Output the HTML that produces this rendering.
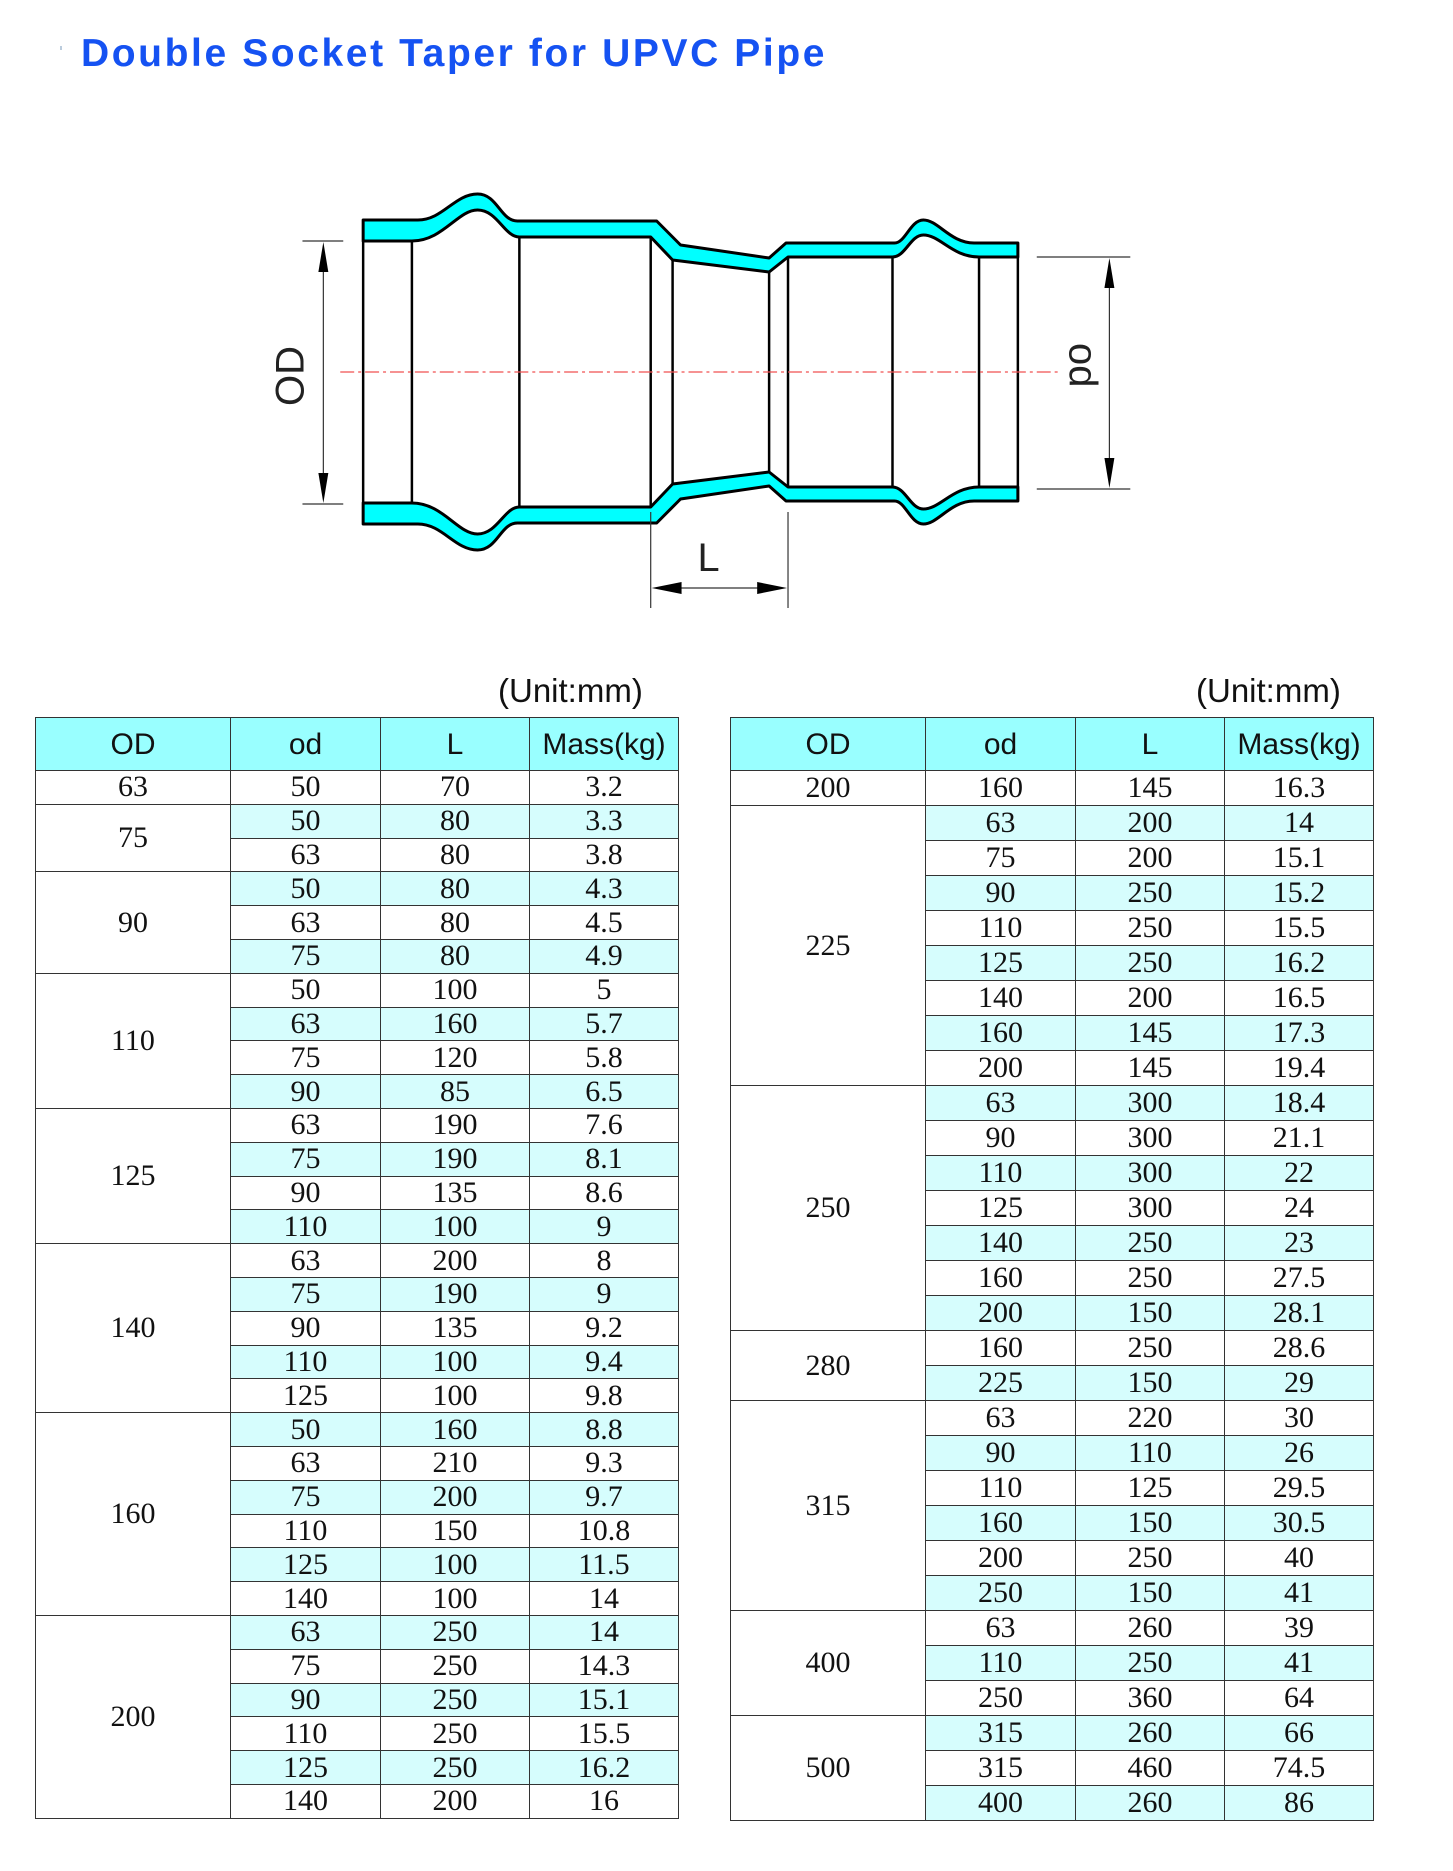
<!DOCTYPE html>
<html><head><meta charset="utf-8"><style>
body{margin:0;width:1453px;height:1871px;background:#fff;position:relative;overflow:hidden;font-family:"Liberation Sans",sans-serif}
.title{position:absolute;left:81px;top:32px;font:bold 39px "Liberation Sans",sans-serif;color:#1552f2;letter-spacing:2.6px;white-space:nowrap}
.unit{position:absolute;top:672px;font:33px "Liberation Sans",sans-serif;color:#111}
table{position:absolute;top:717px;border-collapse:collapse;table-layout:fixed}
td{border:1.5px solid #333;text-align:center;padding:0;font:30px "Liberation Serif",serif;color:#111;line-height:1}
table.l td{height:32.8px}
table.r td{height:34px}
th{border:1.5px solid #333;background:#99ffff;font:normal 30px "Liberation Sans",sans-serif;color:#111;height:50px;padding:0;padding-top:2px}
tr.s td{background:#d6fdfd}
tr td.o{background:#fff!important}
</style></head><body>
<div class="title">Double Socket Taper for UPVC Pipe</div>
<div style="position:absolute;left:60px;top:46px;width:2px;height:4px;background:#bcd"></div>

<svg style="position:absolute;left:0;top:0" width="1453" height="660">
<defs><path id="w" d="M370,220 L425,220 C450,220 462,194 485,194 C505,194 508,221 525,221 L665,221 L689,245 L778,258 L795,243 L904,243 C915,243 920,220 933,220 C948,220 960,243 984,243 L1028,243 L1028,257 L989,257 C962,257 950,235 933,235 C920,235 915,257 902,257 L797,257 L778,272 L681,260 L659,237 L527,237 C512,237 505,210 485,210 C465,210 450,241 419,241 L370,241 Z" fill="#00ffff" stroke="#000" stroke-width="3" stroke-linejoin="round"/></defs>
<g transform="translate(-5,0) scale(0.995,1)">
<use href="#w"/>
<use href="#w" transform="translate(0,744) scale(1,-1)"/>
<g stroke="#000" stroke-width="2.5">
<line x1="370" y1="241" x2="370" y2="503"/>
<line x1="419" y1="241" x2="419" y2="503"/>
<line x1="527" y1="237" x2="527" y2="507"/>
<line x1="659" y1="237" x2="659" y2="507"/>
<line x1="681" y1="260" x2="681" y2="484"/>
<line x1="778" y1="272" x2="778" y2="472"/>
<line x1="797" y1="257" x2="797" y2="487"/>
<line x1="902" y1="257" x2="902" y2="487"/>
<line x1="989" y1="257" x2="989" y2="487"/>
<line x1="1028" y1="243" x2="1028" y2="501"/>
</g>
<line x1="347" y1="372" x2="1068" y2="372" stroke="#f05050" stroke-width="1.3" stroke-dasharray="14,4,3,4"/>
<g stroke="#333" stroke-width="1.2">
<line x1="309" y1="241" x2="350" y2="241"/><line x1="309" y1="504" x2="350" y2="504"/>
<line x1="330" y1="262" x2="330" y2="483"/>
<line x1="1047" y1="257" x2="1141" y2="257"/><line x1="1047" y1="489" x2="1141" y2="489"/>
<line x1="1120" y1="278" x2="1120" y2="468"/>
<line x1="659" y1="512" x2="659" y2="608"/><line x1="797" y1="512" x2="797" y2="608"/>
<line x1="680" y1="588" x2="776" y2="588"/>
</g>
<g fill="#000">
<polygon points="330,242 325,272 335,272"/><polygon points="330,503 325,473 335,473"/>
<polygon points="1120,258 1115,288 1125,288"/><polygon points="1120,488 1115,458 1125,458"/>
<polygon points="660,588 690,582 690,594"/><polygon points="796,588 766,582 766,594"/>
</g>
<text x="0" y="0" transform="translate(310,406) rotate(-90)" font-family="Liberation Sans" font-size="40" fill="#222">OD</text>
<text x="0" y="0" transform="translate(1080,343) rotate(90)" font-family="Liberation Sans" font-size="40" fill="#222">od</text>
<text x="706" y="571" font-family="Liberation Sans" font-size="40" fill="#222">L</text>
</g>
</svg>

<div class="unit" style="left:498px">(Unit:mm)</div>
<div class="unit" style="left:1196px">(Unit:mm)</div>

<table class="l" style="left:35px;width:643px">
<colgroup><col style="width:195px"><col style="width:150px"><col style="width:149px"><col style="width:149px"></colgroup>
<tr><th>OD</th><th>od</th><th>L</th><th>Mass(kg)</th></tr>
<tr><td class="o">63</td><td>50</td><td>70</td><td>3.2</td></tr>
<tr class="s"><td class="o" rowspan="2">75</td><td>50</td><td>80</td><td>3.3</td></tr>
<tr><td>63</td><td>80</td><td>3.8</td></tr>
<tr class="s"><td class="o" rowspan="3">90</td><td>50</td><td>80</td><td>4.3</td></tr>
<tr><td>63</td><td>80</td><td>4.5</td></tr>
<tr class="s"><td>75</td><td>80</td><td>4.9</td></tr>
<tr><td class="o" rowspan="4">110</td><td>50</td><td>100</td><td>5</td></tr>
<tr class="s"><td>63</td><td>160</td><td>5.7</td></tr>
<tr><td>75</td><td>120</td><td>5.8</td></tr>
<tr class="s"><td>90</td><td>85</td><td>6.5</td></tr>
<tr><td class="o" rowspan="4">125</td><td>63</td><td>190</td><td>7.6</td></tr>
<tr class="s"><td>75</td><td>190</td><td>8.1</td></tr>
<tr><td>90</td><td>135</td><td>8.6</td></tr>
<tr class="s"><td>110</td><td>100</td><td>9</td></tr>
<tr><td class="o" rowspan="5">140</td><td>63</td><td>200</td><td>8</td></tr>
<tr class="s"><td>75</td><td>190</td><td>9</td></tr>
<tr><td>90</td><td>135</td><td>9.2</td></tr>
<tr class="s"><td>110</td><td>100</td><td>9.4</td></tr>
<tr><td>125</td><td>100</td><td>9.8</td></tr>
<tr class="s"><td class="o" rowspan="6">160</td><td>50</td><td>160</td><td>8.8</td></tr>
<tr><td>63</td><td>210</td><td>9.3</td></tr>
<tr class="s"><td>75</td><td>200</td><td>9.7</td></tr>
<tr><td>110</td><td>150</td><td>10.8</td></tr>
<tr class="s"><td>125</td><td>100</td><td>11.5</td></tr>
<tr><td>140</td><td>100</td><td>14</td></tr>
<tr class="s"><td class="o" rowspan="6">200</td><td>63</td><td>250</td><td>14</td></tr>
<tr><td>75</td><td>250</td><td>14.3</td></tr>
<tr class="s"><td>90</td><td>250</td><td>15.1</td></tr>
<tr><td>110</td><td>250</td><td>15.5</td></tr>
<tr class="s"><td>125</td><td>250</td><td>16.2</td></tr>
<tr><td>140</td><td>200</td><td>16</td></tr>
</table>

<table class="r" style="left:730px;width:643px">
<colgroup><col style="width:195px"><col style="width:150px"><col style="width:149px"><col style="width:149px"></colgroup>
<tr><th>OD</th><th>od</th><th>L</th><th>Mass(kg)</th></tr>
<tr><td class="o">200</td><td>160</td><td>145</td><td>16.3</td></tr>
<tr class="s"><td class="o" rowspan="8">225</td><td>63</td><td>200</td><td>14</td></tr>
<tr><td>75</td><td>200</td><td>15.1</td></tr>
<tr class="s"><td>90</td><td>250</td><td>15.2</td></tr>
<tr><td>110</td><td>250</td><td>15.5</td></tr>
<tr class="s"><td>125</td><td>250</td><td>16.2</td></tr>
<tr><td>140</td><td>200</td><td>16.5</td></tr>
<tr class="s"><td>160</td><td>145</td><td>17.3</td></tr>
<tr><td>200</td><td>145</td><td>19.4</td></tr>
<tr class="s"><td class="o" rowspan="7">250</td><td>63</td><td>300</td><td>18.4</td></tr>
<tr><td>90</td><td>300</td><td>21.1</td></tr>
<tr class="s"><td>110</td><td>300</td><td>22</td></tr>
<tr><td>125</td><td>300</td><td>24</td></tr>
<tr class="s"><td>140</td><td>250</td><td>23</td></tr>
<tr><td>160</td><td>250</td><td>27.5</td></tr>
<tr class="s"><td>200</td><td>150</td><td>28.1</td></tr>
<tr><td class="o" rowspan="2">280</td><td>160</td><td>250</td><td>28.6</td></tr>
<tr class="s"><td>225</td><td>150</td><td>29</td></tr>
<tr><td class="o" rowspan="6">315</td><td>63</td><td>220</td><td>30</td></tr>
<tr class="s"><td>90</td><td>110</td><td>26</td></tr>
<tr><td>110</td><td>125</td><td>29.5</td></tr>
<tr class="s"><td>160</td><td>150</td><td>30.5</td></tr>
<tr><td>200</td><td>250</td><td>40</td></tr>
<tr class="s"><td>250</td><td>150</td><td>41</td></tr>
<tr><td class="o" rowspan="3">400</td><td>63</td><td>260</td><td>39</td></tr>
<tr class="s"><td>110</td><td>250</td><td>41</td></tr>
<tr><td>250</td><td>360</td><td>64</td></tr>
<tr class="s"><td class="o" rowspan="3">500</td><td>315</td><td>260</td><td>66</td></tr>
<tr><td>315</td><td>460</td><td>74.5</td></tr>
<tr class="s"><td>400</td><td>260</td><td>86</td></tr>
</table>
</body></html>
